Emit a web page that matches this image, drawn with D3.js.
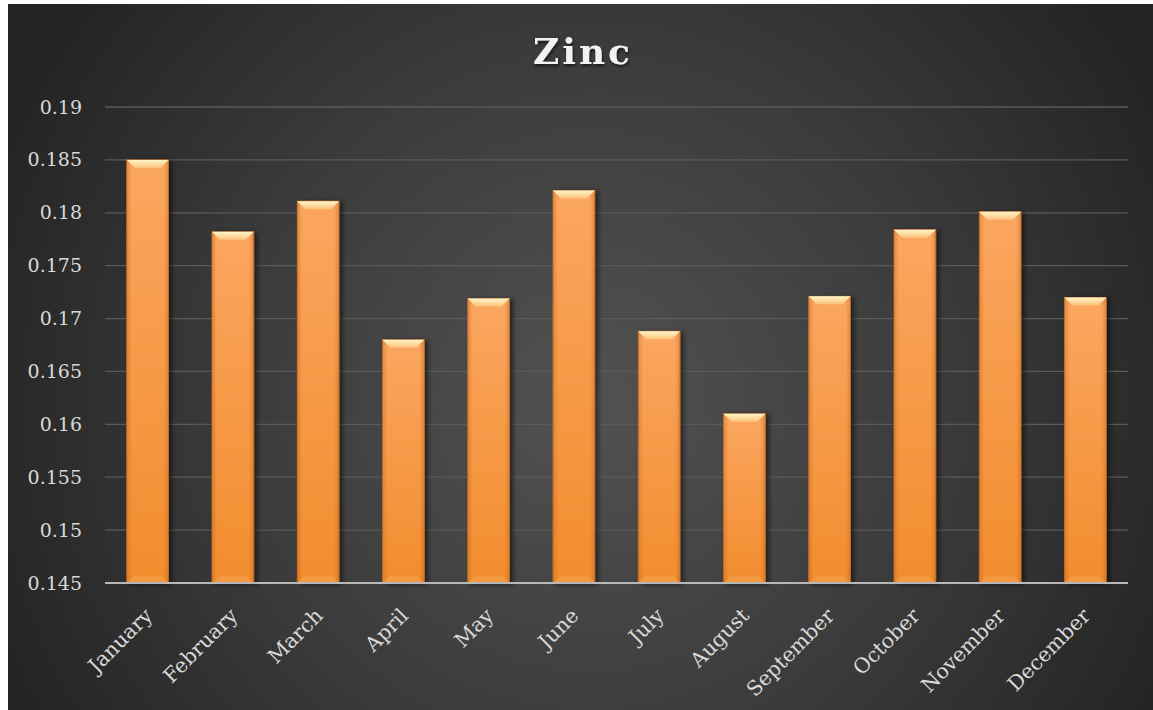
<!DOCTYPE html>
<html>
<head>
<meta charset="utf-8">
<script src="https://cdn.jsdelivr.net/npm/d3@7"></script>
<style>
  body { margin: 0; background: #ffffff; }
  svg { display: block; }
</style>
</head>
<body>
<div id="chart"></div>
<script>
// Data
var months = ["January", "February", "March", "April", "May", "June",
  "July", "August", "September", "October", "November", "December"];
var zinc = [0.185, 0.1782, 0.1811, 0.168, 0.1719, 0.1821,
  0.1688, 0.161, 0.1721, 0.1784, 0.1801, 0.172];
var yTicks = [0.145, 0.15, 0.155, 0.16, 0.165, 0.17, 0.175, 0.18, 0.185, 0.19];

var W = 1153, H = 710;
var margin = { top: 107, right: 25, bottom: 127, left: 105 };
var width = W - margin.left - margin.right;
var height = H - margin.top - margin.bottom;

var svg = d3.select("#chart")
  .append("svg")
  .attr("width", W)
  .attr("height", H);

var defs = svg.append("defs");

// background radial gradient
var bg = defs.append("radialGradient")
  .attr("id", "bg")
  .attr("gradientUnits", "userSpaceOnUse")
  .attr("cx", 590).attr("cy", 400).attr("r", 640);
bg.append("stop").attr("offset", "0%").attr("stop-color", "#525252");
bg.append("stop").attr("offset", "55%").attr("stop-color", "#3b3b3b");
bg.append("stop").attr("offset", "100%").attr("stop-color", "#242424");

// bar body gradient
var barGrad = defs.append("linearGradient")
  .attr("id", "barGrad")
  .attr("x1", 0).attr("y1", 0).attr("x2", 0).attr("y2", 1);
barGrad.append("stop").attr("offset", "0%").attr("stop-color", "#fba660");
barGrad.append("stop").attr("offset", "100%").attr("stop-color", "#f28d2e");

// side shading across the bar
var sideGrad = defs.append("linearGradient")
  .attr("id", "sideGrad")
  .attr("x1", 0).attr("y1", 0).attr("x2", 1).attr("y2", 0);
sideGrad.append("stop").attr("offset", "0%").attr("stop-color", "#b05a10").attr("stop-opacity", 0.35);
sideGrad.append("stop").attr("offset", "12%").attr("stop-color", "#b05a10").attr("stop-opacity", 0);
sideGrad.append("stop").attr("offset", "88%").attr("stop-color", "#b05a10").attr("stop-opacity", 0);
sideGrad.append("stop").attr("offset", "100%").attr("stop-color", "#b05a10").attr("stop-opacity", 0.35);

// bevel highlight
var bevel = defs.append("linearGradient")
  .attr("id", "bevel")
  .attr("x1", 0).attr("y1", 0).attr("x2", 0).attr("y2", 1);
bevel.append("stop").attr("offset", "0%").attr("stop-color", "#fff6c8");
bevel.append("stop").attr("offset", "100%").attr("stop-color", "#fcc27c");

var shadow = defs.append("filter")
  .attr("id", "shadow")
  .attr("x", "-30%").attr("y", "-10%").attr("width", "160%").attr("height", "120%");
shadow.append("feDropShadow")
  .attr("dx", 3).attr("dy", 1).attr("stdDeviation", 2.5)
  .attr("flood-color", "#000").attr("flood-opacity", 0.55);

var titleShadow = defs.append("filter").attr("id", "tshadow");
titleShadow.append("feDropShadow")
  .attr("dx", 1).attr("dy", 2).attr("stdDeviation", 1.5)
  .attr("flood-color", "#000").attr("flood-opacity", 0.6);

// background
svg.append("rect")
  .attr("x", 8).attr("y", 4)
  .attr("width", W - 8).attr("height", H - 4)
  .attr("fill", "url(#bg)");

var g = svg.append("g")
  .attr("transform", "translate(" + margin.left + "," + margin.top + ")");

// scales
var xScale = d3.scaleBand()
  .domain(months)
  .range([0, width])
  .paddingInner(0.51)
  .paddingOuter(0.255);

var yScale = d3.scaleLinear()
  .domain([0.145, 0.19])
  .range([height, 0]);

// gridlines
g.append("g")
  .selectAll("line")
  .data(yTicks.slice(1))
  .join("line")
  .attr("x1", 0).attr("x2", width)
  .attr("y1", d => yScale(d)).attr("y2", d => yScale(d))
  .attr("stroke", "#5a5a5a")
  .attr("stroke-width", 1.3);

// y axis labels
var yAxis = d3.axisLeft(yScale)
  .tickValues(yTicks)
  .tickSize(0)
  .tickPadding(23)
  .tickFormat(d => String(+d.toFixed(3)));

g.append("g")
  .call(yAxis)
  .call(a => a.select(".domain").remove())
  .selectAll("text")
  .attr("font-family", "'DejaVu Serif', serif")
  .attr("font-size", 19)
  .attr("fill", "#d9d9d9");

// bars
var bars = g.append("g")
  .selectAll("g")
  .data(months.map((m, i) => ({ month: m, value: zinc[i] })))
  .join("g");

bars.append("rect")
  .attr("x", d => xScale(d.month))
  .attr("y", d => yScale(d.value))
  .attr("width", xScale.bandwidth())
  .attr("height", d => height - yScale(d.value))
  .attr("fill", "url(#barGrad)")
  .attr("stroke", "#c9712a")
  .attr("stroke-width", 0.8)
  .attr("filter", "url(#shadow)");

bars.append("rect")
  .attr("x", d => xScale(d.month))
  .attr("y", d => yScale(d.value))
  .attr("width", xScale.bandwidth())
  .attr("height", d => height - yScale(d.value))
  .attr("fill", "url(#sideGrad)");

// top bevel
bars.append("path")
  .attr("d", function (d) {
    var x0 = xScale(d.month), x1 = x0 + xScale.bandwidth();
    var y0 = yScale(d.value), b = 8;
    return "M" + x0 + "," + y0 + "L" + x1 + "," + y0 +
      "L" + (x1 - b) + "," + (y0 + b) + "L" + (x0 + b) + "," + (y0 + b) + "Z";
  })
  .attr("fill", "url(#bevel)");

// bottom bevel (subtle)
bars.append("path")
  .attr("d", function (d) {
    var x0 = xScale(d.month), x1 = x0 + xScale.bandwidth();
    var y0 = height, b = 7;
    return "M" + x0 + "," + y0 + "L" + x1 + "," + y0 +
      "L" + (x1 - b) + "," + (y0 - b) + "L" + (x0 + b) + "," + (y0 - b) + "Z";
  })
  .attr("fill", "#f7a85c")
  .attr("opacity", 0.45);

// baseline
g.append("line")
  .attr("x1", 0).attr("x2", width)
  .attr("y1", height).attr("y2", height)
  .attr("stroke", "#b8b8b8")
  .attr("stroke-width", 2);

// x labels
var xAxis = d3.axisBottom(xScale).tickSize(0).tickPadding(0);
g.append("g")
  .attr("transform", "translate(0," + height + ")")
  .call(xAxis)
  .call(a => a.select(".domain").remove())
  .selectAll("text")
  .attr("font-family", "'DejaVu Serif', serif")
  .attr("font-size", 20.5)
  .attr("fill", "#d9d9d9")
  .attr("text-anchor", "end")
  .attr("dy", 0)
  .attr("transform", "translate(6,34) rotate(-45)");

// title
svg.append("text")
  .attr("x", 583)
  .attr("y", 64)
  .attr("text-anchor", "middle")
  .attr("font-family", "'DejaVu Serif', serif")
  .attr("font-weight", "bold")
  .attr("font-size", 36)
  .attr("letter-spacing", 3)
  .attr("fill", "#f2f2f2")
  .attr("filter", "url(#tshadow)")
  .text("Zinc");
</script>
</body>
</html>
